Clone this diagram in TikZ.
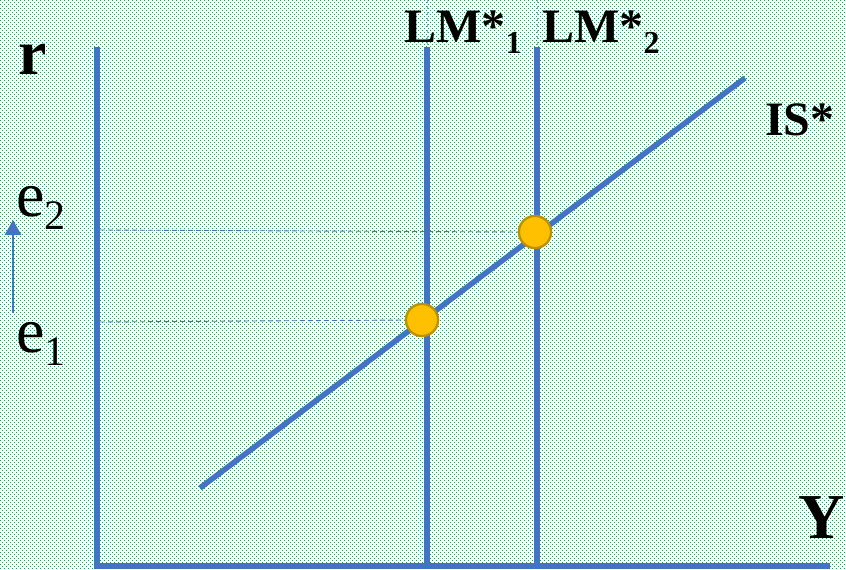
\documentclass[tikz,border=0pt]{standalone}
\usepackage{fontspec}
\setmainfont{Liberation Serif}
\usetikzlibrary{arrows.meta}
\definecolor{bgreen}{HTML}{00B050}
\definecolor{lblue}{HTML}{4472C4}
\definecolor{dotfill}{HTML}{FFC000}
\definecolor{dotedge}{HTML}{BF9000}
\tikzset{
  dotrow/.style={draw=bgreen, line width=1.3pt, dash pattern=on 1.3pt off 2.7pt},
  curve/.style={draw=lblue, solid, line width=5.5pt},
  guide/.style={draw=lblue, line width=0.9pt, dash pattern=on 5pt off 3pt},
  faint/.style={draw=lblue!60, line width=0.6pt, dash pattern=on 3pt off 3pt},
  eq/.style={circle, solid, fill=dotfill, draw=dotedge, line width=2.2pt, minimum size=32pt, inner sep=0pt},
  biglbl/.style={font=\fontsize{48}{50}\selectfont\bfseries, inner sep=0pt, anchor=base west},
  axlbl/.style={font=\fontsize{64}{66}\selectfont\bfseries, inner sep=0pt, anchor=base west},
  elbl/.style={font=\fontsize{64}{66}\selectfont, inner sep=0pt, anchor=base west}
}
\begin{document}
\begin{tikzpicture}[x=1pt,y=-1pt]
\useasboundingbox (0,0) rectangle (846,570);
\fill[white] (0,0) rectangle (846,570);
\begin{scope}
\foreach \i in {0,...,142} {
  \draw[dotrow] (0,4*\i+0.65) -- (846,4*\i+0.65);
  \draw[dotrow] (2,4*\i+2.65) -- (848,4*\i+2.65);
}
\end{scope}
% coordinates
\coordinate (yTop) at (97,47);
\coordinate (origin) at (97,566);
\coordinate (xEnd) at (830,566);
\coordinate (lm1Top) at (427,47);
\coordinate (lm1Bot) at (427,567);
\coordinate (lm2Top) at (537,47);
\coordinate (lm2Bot) at (537,567);
\coordinate (lm1Tip) at (427,0);
\coordinate (lm2Tip) at (537,0);
\coordinate (isA) at (200,488);
\coordinate (isB) at (745,78);
\coordinate (g2) at (100,230);
\coordinate (g1) at (100,322);
\coordinate (arB) at (13,313);
\coordinate (arT) at (13,220);
% faint dashed extensions
\draw[faint] (lm1Tip) -- (lm1Top);
\draw[faint] (lm2Tip) -- (lm2Top);
% guides
\node[eq] (E1) at (422,320) {};
\node[eq] (E2) at (535,232) {};
\draw[guide] (g2) -- (E2.west);
\draw[guide] (g1) -- (E1.west);
% axes and curves
\draw[curve] (yTop) -- (origin) -- (xEnd);
\draw[curve] (lm1Top) -- (lm1Bot);
\draw[curve] (lm2Top) -- (lm2Bot);
\draw[curve] (isA) -- (isB);
\node[eq] at (422,320) {};
\node[eq] at (535,232) {};
% arrow
\draw[lblue, solid, line width=2.8pt, -{Triangle[length=15pt,width=16pt]}] (arB) -- (arT);
% labels
\node[axlbl] (r) at (18,74) {r};
\node[axlbl] (Y) at (798,538) {Y};
\node[biglbl] (IS) at (765,135) {IS*};
\node[biglbl] (LM1) at (404,42) {LM*\raisebox{-11pt}{\fontsize{32}{32}\selectfont 1}};
\node[biglbl] (LM2) at (542,42) {LM*\raisebox{-11pt}{\fontsize{32}{32}\selectfont 2}};
\node[elbl] (e2) at (16,216) {e\raisebox{-13pt}{\fontsize{42}{42}\selectfont 2}};
\node[elbl] (e1) at (16,352) {e\raisebox{-13pt}{\fontsize{42}{42}\selectfont 1}};
\end{tikzpicture}
\end{document}
